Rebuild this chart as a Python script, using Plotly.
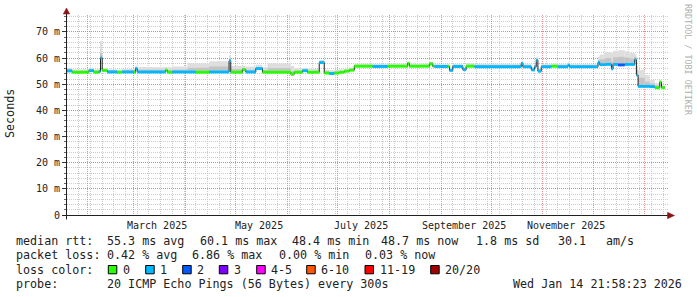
import pandas as pd
import plotly.graph_objects as go

# ---------------- data ----------------
seg_start = [
    "2025-01-19 22:00", "2025-01-23", "2025-02-02", "2025-02-05", "2025-02-08",
    "2025-02-09", "2025-02-10", "2025-02-13", "2025-02-19", "2025-02-22",
    "2025-03-01", "2025-03-02", "2025-03-03", "2025-03-20", "2025-03-21",
    "2025-03-24", "2025-04-02", "2025-04-07", "2025-04-15", "2025-04-27",
    "2025-04-28", "2025-05-05", "2025-05-07", "2025-05-13", "2025-05-17",
    "2025-05-20", "2025-06-03", "2025-06-05", "2025-06-10", "2025-06-13",
    "2025-06-20", "2025-06-23", "2025-06-26", "2025-06-29", "2025-07-02",
    "2025-07-05", "2025-07-08", "2025-07-11", "2025-07-22", "2025-07-31",
    "2025-08-12", "2025-08-13", "2025-08-25", "2025-08-27", "2025-08-28",
    "2025-09-05", "2025-09-06", "2025-09-08", "2025-09-14", "2025-09-16",
    "2025-09-21", "2025-10-19", "2025-10-20", "2025-10-25", "2025-10-27",
    "2025-10-28", "2025-10-29", "2025-10-31", "2025-11-06", "2025-11-10",
    "2025-11-16", "2025-11-17", "2025-12-04", "2025-12-05", "2025-12-08",
    "2025-12-12", "2025-12-13", "2025-12-16", "2025-12-20", "2025-12-23",
    "2025-12-26", "2025-12-27", "2025-12-28", "2026-01-01", "2026-01-04",
    "2026-01-07", "2026-01-10", "2026-01-11",
]
data_end = "2026-01-13"

seg_median = [
    55.1, 54.6, 55.2, 54.6, 54.9,
    60.1, 55.3, 54.7, 54.6, 54.7,
    54.6, 56.0, 54.7, 55.4, 54.6,
    54.7, 54.7, 54.6, 54.7, 59.0,
    54.6, 55.6, 54.7, 56.0, 54.6,
    54.6, 53.8, 54.6, 55.2, 54.6,
    58.3, 54.3, 54.1, 54.3, 54.6,
    55.0, 55.4, 56.9, 56.8, 56.9,
    58.0, 56.9, 57.8, 56.9, 56.8,
    56.8, 55.3, 56.8, 55.6, 56.9,
    56.7, 58.0, 56.7, 55.5, 56.7,
    59.2, 55.0, 56.7, 56.9, 56.7,
    57.3, 56.7, 58.4, 57.5, 57.6,
    55.9, 57.6, 57.4, 57.6, 57.6,
    59.4, 53.5, 49.2, 49.2, 49.1,
    48.7, 50.8, 48.7,
]

seg_loss = [
    1, 0, 1, 0, 1,
    1, 0, 1, 0, 1,
    0, 1, 1, 0, 0,
    1, 1, 0, 1, 1,
    0, 0, 1, 1, 0,
    0, 0, 0, 1, 0,
    1, 0, 1, 0, 0,
    0, 0, 0, 1, 0,
    0, 0, 0, 0, 1,
    0, 1, 1, 1, 0,
    1, 1, 1, 1, 1,
    1, 1, 1, 0, 1,
    1, 1, 1, 1, 1,
    1, 1, 2, 1, 1,
    1, 1, 1, 1, 1,
    0, 0, 0,
]

smoke_core = [
    55.7, 55.2, 55.7, 55.2, 55.4,
    62.0, 55.8, 55.2, 55.1, 55.3,
    55.3, 56.5, 55.6, 56.0, 55.5,
    55.6, 56.3, 56.3, 56.8, 60.0,
    55.8, 56.2, 55.6, 56.6, 55.5,
    56.2, 55.0, 55.3, 55.7, 55.2,
    58.8, 54.9, 54.7, 54.9, 55.1,
    55.5, 55.9, 57.4, 57.3, 57.4,
    58.3, 57.4, 58.2, 57.3, 57.2,
    57.3, 55.9, 57.3, 56.2, 57.5,
    57.3, 58.4, 57.2, 56.1, 57.2,
    59.7, 55.6, 57.2, 57.4, 57.2,
    57.8, 57.2, 59.0, 59.5, 60.0,
    58.5, 60.3, 60.5, 60.2, 59.8,
    60.5, 55.5, 52.5, 51.0, 50.3,
    49.6, 51.2, 49.3,
]

smoke_top = [
    56.3, 55.7, 56.2, 55.7, 55.9,
    66.5, 56.2, 55.7, 55.6, 55.9,
    56.0, 57.0, 56.6, 56.6, 56.5,
    56.8, 58.1, 58.0, 58.8, 61.0,
    57.0, 57.0, 56.8, 57.5, 56.5,
    58.0, 57.0, 56.2, 56.3, 55.9,
    59.3, 55.6, 55.4, 55.5, 55.7,
    56.0, 56.4, 57.9, 57.8, 57.9,
    58.6, 57.9, 58.6, 57.8, 57.7,
    57.8, 56.4, 57.8, 56.7, 58.1,
    57.9, 58.8, 57.7, 56.6, 57.7,
    60.2, 56.2, 57.7, 57.9, 57.7,
    58.3, 57.7, 60.5, 61.4, 62.3,
    62.0, 62.8, 63.0, 62.6, 62.0,
    61.5, 57.0, 55.5, 53.5, 51.7,
    50.5, 51.6, 49.9,
]

loss_labels = ["0", "1", "2", "3", "4-5", "6-10", "11-19", "20/20"]
loss_colors = ["#26ff00", "#00b8ff", "#0059ff", "#7e00ff",
               "#ff00ff", "#ff5500", "#ff0000", "#a10000"]

y_tick_vals = [0, 10, 20, 30, 40, 50, 60, 70]
y_tick_text = ["0", "10 m", "20 m", "30 m", "40 m", "50 m", "60 m", "70 m"]

month_labels = ["March 2025", "May 2025", "July 2025", "September 2025", "November 2025"]
month_label_dates = ["2025-03-15", "2025-05-15", "2025-07-15", "2025-09-15", "2025-11-15"]

x_start = "2025-01-19 21:58:23"
x_end = "2026-01-14 21:58:23"

rtt_title = "median rtt:"
rtt_stats = ["55.3 ms avg", "60.1 ms max", "48.4 ms min", "48.7 ms now", "1.8 ms sd", "30.1", "am/s"]
loss_title = "packet loss:"
loss_stats = ["0.42 % avg", "6.86 % max", "0.00 % min", "0.03 % now"]
color_title = "loss color:"
probe_title = "probe:"
probe_text = "20 ICMP Echo Pings (56 Bytes) every 300s"
stamp_text = "Wed Jan 14 21:58:23 2026"
y_title = "Seconds"
watermark = "RRDTOOL / TOBI OETIKER"

# ---------------- geometry helpers ----------------
W, H = 697, 297
L, R, T, B = 67, 29, 15, 82
PW, PH = W - L - R, H - T - B


def px(X):
    return (X - L) / PW


def py(Y):
    return (H - B - Y) / PH


FONT = "DejaVu Sans Mono"
TXT = "#222222"

starts = list(pd.to_datetime(seg_start, format="ISO8601"))
ends = starts[1:] + [pd.Timestamp(data_end)]
widths = [(e - s).total_seconds() * 1000 for s, e in zip(starts, ends)]

fig = go.Figure()

# smoke (outer, light)
fig.add_trace(go.Bar(
    x=starts, base=seg_median, y=[t - m for t, m in zip(smoke_top, seg_median)],
    width=widths, offset=0, marker=dict(color="#dedede", line=dict(width=0)),
    hoverinfo="skip"))
# smoke (core, darker)
fig.add_trace(go.Bar(
    x=starts, base=seg_median, y=[c - m for c, m in zip(smoke_core, seg_median)],
    width=widths, offset=0, marker=dict(color="#c4c4c4", line=dict(width=0)),
    hoverinfo="skip"))
# dark median line (visible only at steps)
fig.add_trace(go.Scatter(
    x=starts + [pd.Timestamp(data_end)], y=seg_median + [seg_median[-1]],
    mode="lines", line=dict(color="#202020", width=1, shape="hv"), hoverinfo="skip"))
# loss-coloured median band, one trace per loss level
for lvl in sorted(set(seg_loss)):
    xs, ys = [], []
    for s, e, m, lv in zip(starts, ends, seg_median, seg_loss):
        if lv == lvl:
            xs += [s, e, None]
            ys += [m, m, None]
    fig.add_trace(go.Scatter(
        x=xs, y=ys, mode="lines", connectgaps=False,
        line=dict(color=loss_colors[lvl], width=2.9), hoverinfo="skip"))

red_grid = "rgba(225,110,110,0.75)"
gray_grid = "#cccccc"

fig.update_layout(
    width=W, height=H, margin=dict(l=L, r=R, t=T, b=B),
    paper_bgcolor="white", plot_bgcolor="white",
    barmode="overlay", showlegend=False,
    font=dict(family=FONT, color=TXT),
    xaxis=dict(
        range=[x_start, x_end], type="date",
        tick0="2025-02-01", dtick="M1",
        showticklabels=False, ticks="",
        showgrid=True, gridcolor=red_grid, griddash="1px,1px", gridwidth=1,
        minor=dict(dtick=7 * 86400000, tick0="2025-01-20", showgrid=True,
                   gridcolor=gray_grid, griddash="1px,1px", gridwidth=1),
        showline=False, zeroline=False, fixedrange=True,
    ),
    yaxis=dict(
        range=[0, 76.5], tickvals=y_tick_vals, ticktext=y_tick_text,
        tickfont=dict(family=FONT, size=10, color=TXT),
        ticks="outside", ticklen=4, tickcolor="#333333", tickwidth=1,
        showgrid=True, gridcolor=red_grid, griddash="1px,1px", gridwidth=1,
        minor=dict(dtick=2, showgrid=True, gridcolor=gray_grid, griddash="1px,1px",
                   ticks="outside", ticklen=2, tickcolor="#666666"),
        showline=False, zeroline=False, fixedrange=True,
    ),
)

ann = []
# month labels
for lab, d in zip(month_labels, month_label_dates):
    ann.append(dict(x=d, xref="x", y=py(225), yref="paper", text=lab, showarrow=False,
                    xanchor="center", yanchor="middle",
                    font=dict(family=FONT, size=10, color=TXT)))

# y title
ann.append(dict(x=px(10), y=py(114), xref="paper", yref="paper", text=y_title,
                textangle=-90, showarrow=False, xanchor="center", yanchor="middle",
                font=dict(family=FONT, size=11.7, color=TXT)))
# watermark
ann.append(dict(x=px(688), y=py(60), xref="paper", yref="paper", text=watermark,
                textangle=90, showarrow=False, xanchor="center", yanchor="middle",
                font=dict(family=FONT, size=8.4, color="#b0b0b0")))

LF = dict(family=FONT, size=11.7, color=TXT)


def txt(X, Y, s):
    ann.append(dict(x=px(X), y=py(Y), xref="paper", yref="paper", text=s,
                    showarrow=False, xanchor="left", yanchor="middle",
                    borderpad=0, borderwidth=0, font=LF))


row_y = [241, 255.3, 269.5, 283.7]
txt(15.5, row_y[0], rtt_title)
for s, X in zip(rtt_stats, [107, 199.5, 292.3, 381.3, 476.3, 558, 606.3]):
    txt(X, row_y[0], s)
txt(15.5, row_y[1], loss_title)
for s, X in zip(loss_stats, [107, 192.3, 279, 364.7]):
    txt(X, row_y[1], s)
txt(15.5, row_y[2], color_title)
sq_x = [108.3, 145.7, 182.7, 219.3, 256.7, 306.7, 365, 430.7]
shapes = []
for lab, col, X in zip(loss_labels, loss_colors, sq_x):
    shapes.append(dict(type="rect", xref="paper", yref="paper",
                       x0=px(X), x1=px(X + 8.5), y0=py(265.5), y1=py(273.8),
                       fillcolor=col, line=dict(color="#000000", width=1)))
    txt(X + 14.7, row_y[2], lab)
txt(15.5, row_y[3], probe_title)
txt(107, row_y[3], probe_text)
txt(513, row_y[3], stamp_text)

# axes lines and arrows
AX = "#202020"
ARW = "#8c1414"
shapes.append(dict(type="line", xref="paper", yref="paper",
                   x0=px(62.5), x1=px(668), y0=py(215.5), y1=py(215.5),
                   line=dict(color=AX, width=1)))
shapes.append(dict(type="line", xref="paper", yref="paper",
                   x0=px(66.5), x1=px(66.5), y0=py(219.5), y1=py(14),
                   line=dict(color=AX, width=1)))
shapes.append(dict(type="path", xref="paper", yref="paper",
                   path=f"M {px(667.5)},{py(212.3)} L {px(667.5)},{py(218.7)} L {px(674.5)},{py(215.5)} Z",
                   fillcolor=ARW, line=dict(color=ARW, width=0.5)))
shapes.append(dict(type="path", xref="paper", yref="paper",
                   path=f"M {px(63.3)},{py(14)} L {px(69.7)},{py(14)} L {px(66.5)},{py(8)} Z",
                   fillcolor=ARW, line=dict(color=ARW, width=0.5)))

fig.update_layout(annotations=ann, shapes=shapes)
fig.write_html("out.html")
